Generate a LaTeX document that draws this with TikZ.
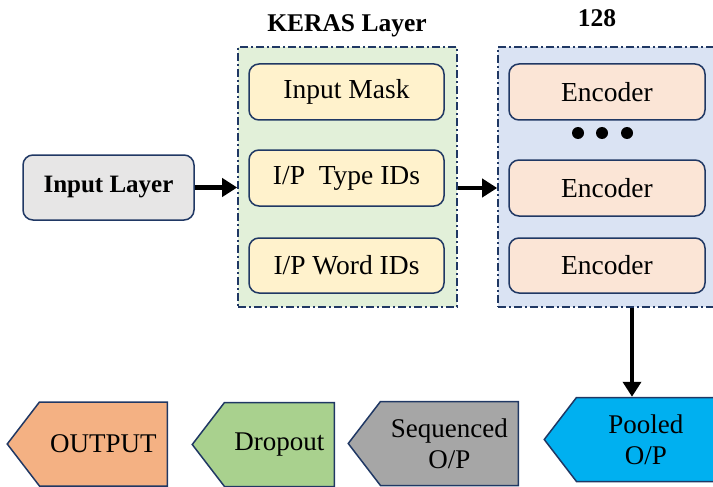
\documentclass[tikz,border=0pt]{standalone}
\usepackage{fontspec}
\setmainfont{Liberation Serif}
\usetikzlibrary{arrows.meta,shapes.symbols}

\definecolor{navy}{HTML}{203864}
\definecolor{ingray}{HTML}{E7E6E6}
\definecolor{kerasgreen}{HTML}{E2F0D9}
\definecolor{idyellow}{HTML}{FFF2CC}
\definecolor{encblue}{HTML}{DAE3F3}
\definecolor{encpeach}{HTML}{FBE5D6}
\definecolor{outorange}{HTML}{F4B183}
\definecolor{dropgreen}{HTML}{A9D18E}
\definecolor{seqgray}{HTML}{A6A6A6}
\definecolor{poolcyan}{HTML}{00B0F0}

\tikzset{
  box/.style={draw=navy, line width=1.5pt, rounded corners=10pt,
    minimum width=195pt, minimum height=56pt, font=\fontsize{27.5}{31}\selectfont},
  group/.style={draw=navy, line width=1.6pt, dash pattern=on 8pt off 3pt on 2pt off 3pt},
  title/.style={anchor=base, font=\fontsize{25.5}{30}\selectfont\bfseries},
  outbox/.style={signal, signal to=west, signal pointer angle=105, draw=navy,
    line width=1.5pt, minimum height=84pt, anchor=east, align=center,
    font=\fontsize{27}{31}\selectfont},
  arr/.style={line width=4.5pt, -{Triangle[length=15pt,width=18pt]}}
}

\begin{document}
\begin{tikzpicture}[x=1pt, y=-1pt]
    \useasboundingbox (0,0) rectangle (713,487);

    \node[group, fill=kerasgreen, minimum width=219pt, minimum height=260pt] (keras) at (347.5,177) {};
    \node[group, fill=encblue, minimum width=218pt, minimum height=260pt] (encgrp) at (607,177) {};
    \node[title] (kerastitle) at (347,32) {KERAS Layer};
    \node[title] (enctitle) at (597,27) {128};

    \node[box, fill=ingray, minimum width=171pt, minimum height=65pt, font=\fontsize{25}{30}\selectfont\bfseries] (inlayer) at (108.5,187.5) {Input Layer};

    \node[box, fill=idyellow] (mask) at (346.5,92) {Input Mask};
    \node[box, fill=idyellow] (typeid) at (346.5,178) {I/P\ \ Type IDs};
    \node[box, fill=idyellow, minimum height=55pt] (wordid) at (346.5,265.5) {I/P Word IDs};

    \node[box, fill=encpeach, minimum width=196pt] (enc1) at (607,92) {Encoder};
    \node[box, fill=encpeach, minimum width=196pt] (enc2) at (607,188) {Encoder};
    \node[box, fill=encpeach, minimum width=196pt, minimum height=55pt] (enc3) at (607,265.5) {Encoder};
    \foreach \x [count=\i] in {578,602,627}
        \node[circle, fill=black, inner sep=0pt, minimum size=12pt] (dot\i) at (\x,133) {};

    \node[outbox, fill=outorange, minimum width=160pt] (output) at (168,444) {OUTPUT};
    \node[outbox, fill=dropgreen, minimum width=142pt] (dropout) at (335,444.5) {Dropout};
    \node[outbox, fill=seqgray, minimum width=170pt] (seq) at (519,443.5) {Sequenced\\O/P};
    \node[outbox, fill=poolcyan, minimum width=171pt] (pool) at (716,439.5) {Pooled\\O/P};

    \draw[arr] (inlayer.east) -- (inlayer.east -| keras.west);
    \draw[arr] (keras.east |- enc2) -- (encgrp.west |- enc2);
    \draw[arr] ([xshift=25pt]encgrp.south) -- ([xshift=25pt]encgrp.south |- pool.north);
\end{tikzpicture}
\end{document}
